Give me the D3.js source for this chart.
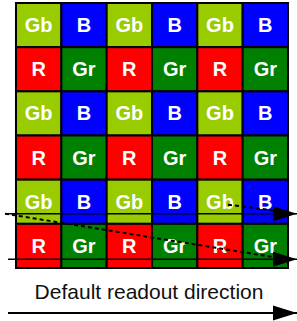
<!DOCTYPE html>
<html>
<head>
<meta charset="utf-8">
<script src="https://cdn.jsdelivr.net/npm/d3@7"></script>
<style>
	body { margin: 0; background: #fff; }
	svg { display: block; }
</style>
</head>
<body>
<svg id="bayer"></svg>
<script>
// Bayer pattern, row by row
var rowPattern = [['Gb', 'B'], ['R', 'Gr']];
var cols = [0, 1, 2, 3, 4, 5];
var rows = [0, 1, 2, 3, 4, 5];
var colors = {Gb: '#99cc00', B: '#0000ff', R: '#ff0000', Gr: '#008000'};
var caption = 'Default readout direction';

var width = 297, height = 321;
var svg = d3.select('#bayer').attr('width', width).attr('height', height);

var x = d3.scaleBand().domain(cols).range([16, 288]);
var y = d3.scaleBand().domain(rows).range([3, 268]);

var cells = [];
rows.forEach(function (r) {
	cols.forEach(function (c) {
		cells.push({row: r, col: c, label: rowPattern[r % 2][c % 2]});
	});
});

var defs = svg.append('defs');
defs.append('marker')
	.attr('id', 'arrow')
	.attr('markerUnits', 'userSpaceOnUse')
	.attr('markerWidth', 24)
	.attr('markerHeight', 16)
	.attr('viewBox', '0 0 24 16')
	.attr('refX', 24)
	.attr('refY', 8)
	.attr('orient', 'auto')
	.append('path')
	.attr('d', 'M0,0.5 L24,8 L0,15.5 Z')
	.attr('fill', 'black');

var cell = svg.append('g')
	.attr('class', 'cells')
	.selectAll('g')
	.data(cells)
	.enter()
	.append('g')
	.attr('transform', function (d) { return 'translate(' + x(d.col) + ' ' + y(d.row) + ')'; });

cell.append('rect')
	.attr('width', x.bandwidth())
	.attr('height', y.bandwidth())
	.attr('fill', function (d) { return colors[d.label]; })
	.attr('stroke', 'black')
	.attr('stroke-width', 2);

cell.append('text')
	.attr('x', x.bandwidth() / 2)
	.attr('y', y.bandwidth() / 2 + 7)
	.attr('text-anchor', 'middle')
	.attr('fill', 'white')
	.attr('font-family', 'Liberation Sans, Arial, sans-serif')
	.attr('font-weight', 'bold')
	.attr('font-size', 20)
	.text(function (d) { return d.label; });

// readout lines over the last two rows
var lines = svg.append('g').attr('stroke', 'black').attr('fill', 'none');
var y5 = y(4) + y.bandwidth() * 0.77;
var y6 = y(5) + y.bandwidth() * 0.8;

lines.append('line')
	.attr('x1', 5).attr('y1', y5).attr('x2', width).attr('y2', y5)
	.attr('stroke-width', 1.5)
	.attr('marker-end', 'url(#arrow)');
lines.append('line')
	.attr('x1', 8).attr('y1', y6).attr('x2', width).attr('y2', y6)
	.attr('stroke-width', 1.5)
	.attr('marker-end', 'url(#arrow)');
lines.append('line')
	.attr('x1', 5).attr('y1', y5).attr('x2', 280).attr('y2', y6 - 1)
	.attr('stroke-width', 2)
	.attr('stroke-dasharray', '4,3');
lines.append('line')
	.attr('x1', 228).attr('y1', y5 - 9).attr('x2', 276).attr('y2', y5 - 3)
	.attr('stroke-width', 2)
	.attr('stroke-dasharray', '4,3');

// caption and default arrow
svg.append('text')
	.attr('x', 149)
	.attr('y', 299)
	.attr('text-anchor', 'middle')
	.attr('fill', '#111')
	.attr('font-family', 'Liberation Sans, Arial, sans-serif')
	.attr('font-size', 21)
	.text(caption);

svg.append('line')
	.attr('x1', 8).attr('y1', 313).attr('x2', width).attr('y2', 313)
	.attr('stroke', 'black')
	.attr('stroke-width', 2)
	.attr('marker-end', 'url(#arrow)');
</script>
</body>
</html>
